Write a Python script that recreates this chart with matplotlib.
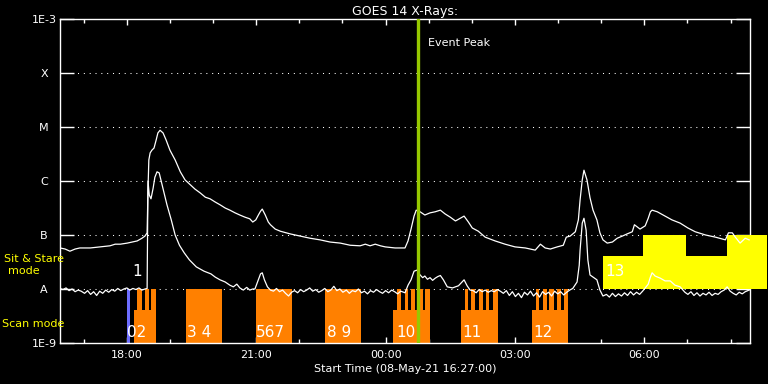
import numpy as np
import matplotlib.pyplot as plt

# ------------------------------------------------------------
# datos: horas desde 08-May-21 00:00 y log10 del flujo (W/m^2)
# ------------------------------------------------------------
long_t = [
    16.45, 16.57, 16.68, 16.80, 16.91, 17.15, 17.38, 17.61, 17.73, 17.85,
    18.01, 18.13, 18.24, 18.35, 18.42, 18.47, 18.49, 18.51, 18.54, 18.58,
    18.63, 18.68, 18.72, 18.77, 18.84, 18.91, 19.00, 19.12, 19.24, 19.35,
    19.47, 19.58, 19.70, 19.82, 19.93, 20.05, 20.16, 20.28, 20.39, 20.51,
    20.62, 20.74, 20.85, 20.92, 20.99, 21.05, 21.10, 21.14, 21.21, 21.28,
    21.33, 21.44, 21.56, 21.79, 22.02, 22.25, 22.48, 22.71, 22.95, 23.18,
    23.41, 23.53, 23.64, 23.76, 23.88, 23.99, 24.22, 24.45, 24.52, 24.59,
    24.66, 24.71, 24.80, 24.91, 25.03, 25.15, 25.27, 25.38, 25.50, 25.62,
    25.73, 25.82, 25.92, 26.01, 26.15, 26.31, 26.54, 26.77, 27.00, 27.24,
    27.47, 27.59, 27.70, 27.82, 27.98, 28.12, 28.19, 28.28, 28.40, 28.47,
    28.51, 28.56, 28.60, 28.67, 28.74, 28.81, 28.90, 28.97, 29.04, 29.14,
    29.26, 29.37, 29.49, 29.60, 29.72, 29.77, 29.90, 30.02, 30.09, 30.14,
    30.18, 30.30, 30.48, 30.64, 30.83, 31.01, 31.18, 31.42, 31.65, 31.88,
    31.95, 32.04, 32.11, 32.22, 32.34, 32.43,
]
long_log = [
    -7.24, -7.26, -7.30, -7.26, -7.24, -7.24, -7.22, -7.20, -7.17, -7.17,
    -7.15, -7.13, -7.11, -7.06, -7.02, -6.96, -6.17, -5.61, -5.48, -5.43,
    -5.39, -5.24, -5.11, -5.06, -5.11, -5.24, -5.43, -5.61, -5.83, -5.98,
    -6.07, -6.15, -6.22, -6.30, -6.33, -6.39, -6.44, -6.50, -6.54, -6.59,
    -6.63, -6.67, -6.70, -6.76, -6.72, -6.63, -6.56, -6.52, -6.63, -6.76,
    -6.81, -6.89, -6.93, -6.98, -7.02, -7.06, -7.09, -7.13, -7.15, -7.19,
    -7.20, -7.17, -7.20, -7.17, -7.20, -7.22, -7.24, -7.24, -7.11, -6.89,
    -6.65, -6.54, -6.57, -6.63, -6.59, -6.57, -6.54, -6.61, -6.67, -6.74,
    -6.69, -6.65, -6.76, -6.87, -6.93, -7.04, -7.11, -7.17, -7.22, -7.24,
    -7.28, -7.17, -7.24, -7.26, -7.22, -7.19, -7.04, -7.02, -6.94, -6.72,
    -6.35, -5.98, -5.80, -5.98, -6.31, -6.54, -6.72, -6.96, -7.09, -7.15,
    -7.13, -7.06, -7.02, -6.98, -6.94, -6.81, -6.89, -6.83, -6.69, -6.57,
    -6.54, -6.57, -6.65, -6.72, -6.78, -6.87, -6.94, -7.00, -7.04, -7.09,
    -6.96, -6.96, -7.04, -7.15, -7.06, -7.09,
]

short_t = [
    16.45, 16.52, 16.59, 16.66, 16.73, 16.80, 16.87, 16.94, 17.02, 17.09,
    17.16, 17.23, 17.30, 17.37, 17.44, 17.51, 17.58, 17.65, 17.72, 17.79,
    17.86, 17.93, 18.00, 18.07, 18.14, 18.21, 18.28, 18.35, 18.42, 18.47,
    18.49, 18.52, 18.56, 18.61, 18.65, 18.70, 18.75, 18.79, 18.86, 18.93,
    19.03, 19.12, 19.22, 19.33, 19.45, 19.61, 19.79, 19.95, 20.05, 20.16,
    20.28, 20.39, 20.47, 20.55, 20.62, 20.70, 20.78, 20.85, 20.92, 20.97,
    21.05, 21.10, 21.14, 21.19, 21.26, 21.33,
    21.40, 21.47, 21.54, 21.61, 21.68, 21.75, 21.82, 21.89, 21.96, 22.03,
    22.10, 22.17, 22.24, 22.31, 22.38, 22.45, 22.52, 22.59, 22.66, 22.73,
    22.80, 22.87, 22.94, 23.01, 23.09, 23.16, 23.23, 23.30, 23.37, 23.44,
    23.51, 23.58, 23.65, 23.72, 23.79, 23.86, 23.93, 24.00, 24.07, 24.14,
    24.21, 24.28, 24.35, 24.42,
    24.45, 24.52, 24.59, 24.66, 24.73, 24.80, 24.86, 24.91, 24.97, 25.03,
    25.09, 25.15, 25.21, 25.27, 25.34, 25.43, 25.55, 25.69, 25.82, 25.89,
    25.96,
    26.03, 26.10, 26.17, 26.24, 26.31, 26.38, 26.45, 26.52, 26.59, 26.66,
    26.73, 26.80, 26.87, 26.94, 27.01, 27.08, 27.15, 27.22, 27.29, 27.36,
    27.43, 27.50, 27.57, 27.64, 27.71, 27.78, 27.85, 27.92, 27.99, 28.06,
    28.13, 28.20, 28.27, 28.34,
    28.44, 28.49, 28.51, 28.56, 28.60, 28.65, 28.69, 28.74, 28.81, 28.90,
    28.97, 29.04,
    29.12, 29.19, 29.26, 29.33, 29.40, 29.47, 29.54, 29.61, 29.68, 29.75,
    29.82, 29.89, 29.96,
    30.09, 30.14, 30.18, 30.25, 30.37, 30.48, 30.60, 30.71, 30.83, 30.94,
    31.01, 31.08, 31.15, 31.22, 31.29, 31.36, 31.43, 31.50, 31.57, 31.64,
    31.71, 31.78, 31.85, 31.92, 31.99, 32.06, 32.13, 32.20, 32.27, 32.34,
    32.43,
]
short_log = [
    -7.99, -8.01, -7.98, -8.03, -8.00, -8.05, -8.02, -8.04, -8.08, -8.03,
    -8.10, -8.05, -8.12, -8.04, -8.08, -8.02, -8.06, -8.01, -8.04, -7.99,
    -8.03, -8.00, -7.98, -8.02, -7.99, -8.01, -7.98, -8.02, -8.00, -7.99,
    -6.00, -6.26, -6.33, -6.13, -5.93, -5.83, -5.85, -5.98, -6.20, -6.44,
    -6.72, -7.00, -7.19, -7.33, -7.46, -7.59, -7.67, -7.72, -7.78, -7.83,
    -7.87, -7.93, -7.96, -7.91, -7.98, -8.02, -7.97, -8.02, -8.00, -8.00,
    -7.83, -7.72, -7.70, -7.83, -7.96, -8.02,
    -8.04, -7.99, -8.05, -8.02, -8.08, -8.13, -8.06, -8.03, -8.07, -8.01,
    -8.05, -8.02, -7.98, -8.04, -8.01, -8.06, -8.03, -7.99, -8.05, -8.02,
    -7.95, -8.03, -8.00, -8.06, -8.02, -8.08, -8.03, -8.05, -8.00, -8.07,
    -8.04, -8.09, -8.03, -8.06, -8.01, -8.05, -8.08, -8.03, -8.07, -8.02,
    -8.05, -8.09, -8.04, -8.06,
    -8.07, -7.93, -7.83, -7.67, -7.65, -7.74, -7.79, -7.76, -7.82, -7.79,
    -7.84, -7.80, -7.77, -7.75, -7.83, -7.96, -7.98, -7.94, -7.83, -7.94,
    -8.02,
    -8.03, -8.07, -8.01, -8.05, -8.02, -8.06, -8.03, -8.05, -8.01, -8.04,
    -8.08, -8.03, -8.12, -8.05, -8.14, -8.08, -8.16, -8.06, -8.11, -8.04,
    -8.13, -8.07, -8.15, -8.05, -8.10, -8.06, -8.13, -8.04, -8.09, -8.05,
    -8.11, -8.06, -8.02, -7.99,
    -7.87, -7.56, -7.28, -6.78, -6.69, -6.91, -7.46, -7.74, -7.78, -7.83,
    -8.02, -8.13,
    -8.10, -8.15, -8.08, -8.14, -8.09, -8.13, -8.07, -8.12, -8.05, -8.11,
    -8.06, -8.10, -8.04,
    -7.91, -7.78, -7.70, -7.76, -7.80, -7.85, -7.85, -7.93, -7.96, -8.06,
    -8.10, -8.05, -8.12, -8.07, -8.13, -8.08, -8.11, -8.06, -8.12, -8.08,
    -8.10, -8.05, -8.02, -7.96, -8.04, -8.08, -8.11, -8.06, -8.09, -8.05,
    -8.02,
]

class_ticks = [1e-3, 1e-4, 1e-5, 1e-6, 1e-7, 1e-8, 1e-9]
class_labels = ["1E-3", "X", "M", "C", "B", "A", "1E-9"]
grid_levels = [1e-4, 1e-5, 1e-6, 1e-7, 1e-8]

hour_ticks = [18, 21, 24, 27, 30]
hour_labels = ["18:00", "21:00", "00:00", "03:00", "06:00"]
minor_hours = list(range(17, 33))
t_start, t_end = 16.45, 32.45

# modo scan (naranja)
scan_full = [(19.38, 20.21), (21.00, 21.84), (22.60, 23.44)]
scan_comb = [(18.17, 18.68), (24.18, 25.02), (25.76, 26.60), (27.39, 28.22)]
scan_teeth = [
    (18.23, 18.35), (18.41, 18.52), (18.56, 18.68),
    (24.27, 24.35), (24.44, 24.53), (24.60, 24.69), (24.76, 24.86), (24.92, 25.02),
    (25.83, 25.92), (25.99, 26.07), (26.16, 26.25), (26.32, 26.40), (26.48, 26.60),
    (27.48, 27.56), (27.64, 27.74), (27.80, 27.90), (27.97, 28.06), (28.13, 28.22),
]
scan_names = ["02", "3 4", "567", "8 9", "10", "11", "12"]
scan_name_t = [18.01, 19.40, 21.00, 22.63, 24.25, 25.78, 27.43]

# modo sit & stare (amarillo)
sit_low = [(29.03, 32.84)]
sit_high = [(18.04, 18.06), (29.97, 30.96), (31.91, 32.84)]
sit_names = ["1", "13"]
sit_name_t = [18.12, 29.10]

blue_obs = (18.01, 18.07)
event_peak = 24.74

NARANJA = "#ff8000"
AMARILLO = "#ffff00"
VERDE = "#96c800"
AZUL = "#6e6eff"


def barras(ax, tramos, abajo, arriba, color, z, clip=True):
    for t0, t1 in tramos:
        ax.bar(t0, arriba - abajo, bottom=abajo, width=t1 - t0, align="edge",
               color=color, linewidth=0, zorder=z, clip_on=clip)


def main():
    plt.rcParams["font.family"] = "DejaVu Sans"
    plt.rcParams["font.size"] = 8

    fig = plt.figure(figsize=(7.68, 3.84), dpi=100, facecolor="black")
    ax = fig.add_axes([60 / 768, 41 / 384, 690 / 768, 324 / 384])
    ax.set_facecolor("black")
    ax.set_yscale("log")
    ax.set_xlim(t_start, t_end)
    ax.set_ylim(1e-9, 1e-3)

    # rejilla punteada en los niveles de clase
    ax.hlines(grid_levels, t_start, t_end, colors="white", linewidth=0.75,
              linestyles=(0, (1, 4.6)), zorder=1)

    # bloques de observación
    barras(ax, scan_full, 1e-9, 1e-8, NARANJA, 2)
    barras(ax, scan_comb, 1e-9, 4.1e-9, NARANJA, 2)
    barras(ax, scan_teeth, 1e-9, 1e-8, NARANJA, 2)
    barras(ax, [blue_obs], 1e-9, 1e-8, AZUL, 2)
    barras(ax, sit_low, 1e-8, 4.1e-8, AMARILLO, 3, clip=False)
    barras(ax, sit_high, 1e-8, 1e-7, AMARILLO, 3, clip=False)

    for name, t in zip(scan_names, scan_name_t):
        ax.text(t, 10 ** -8.81, name, color="white", fontsize=11,
                ha="left", va="center", zorder=6)
    for name, t in zip(sit_names, sit_name_t):
        ax.text(t, 10 ** -7.68, name, color="white", fontsize=11,
                ha="left", va="center", zorder=6)

    # curvas GOES
    ax.plot(long_t, 10 ** np.array(long_log), color="white", lw=0.9, zorder=4)
    ax.plot(short_t, 10 ** np.array(short_log), color="white", lw=0.9, zorder=4)

    # pico del evento
    ax.axvline(event_peak, color=VERDE, lw=2.4, zorder=5)
    ax.text(event_peak + 0.25, 10 ** -3.44, "Event Peak", color="white",
            fontsize=8, ha="left", va="center")

    # ejes
    for s in ax.spines.values():
        s.set_color("white")
        s.set_linewidth(1)

    ax.set_yticks(class_ticks)
    ax.set_yticklabels(class_labels)
    ax.yaxis.set_minor_locator(plt.NullLocator())
    ax.tick_params(axis="y", which="major", direction="in", length=10,
                   width=1, colors="white", left=True, right=True, pad=11.5)
    for lbl in ax.get_yticklabels():
        lbl.set_horizontalalignment("center")

    ax.set_xticks(hour_ticks)
    ax.set_xticklabels(hour_labels)
    ax.set_xticks(minor_hours, minor=True)
    ax.tick_params(axis="x", which="major", direction="in", length=4.5,
                   width=1, colors="white", top=True, bottom=True, pad=5)
    ax.tick_params(axis="x", which="minor", direction="in", length=3,
                   width=1, colors="white", top=True, bottom=True)

    ax.set_title("GOES 14 X-Rays:", color="white", fontsize=9, pad=3)
    ax.set_xlabel("Start Time (08-May-21 16:27:00)", color="white",
                  fontsize=8, labelpad=3)

    # etiquetas de modo a la izquierda
    fig.text(34 / 768, 1 - 259 / 384, "Sit & Stare", color=AMARILLO,
             fontsize=8, ha="center", va="center")
    fig.text(24 / 768, 1 - 271 / 384, "mode", color=AMARILLO,
             fontsize=8, ha="center", va="center")
    fig.text(2 / 768, 1 - 324 / 384, "Scan mode", color=AMARILLO,
             fontsize=8, ha="left", va="center")

    fig.savefig("out.png", dpi=100, facecolor="black")
    plt.close(fig)


if __name__ == "__main__":
    main()
